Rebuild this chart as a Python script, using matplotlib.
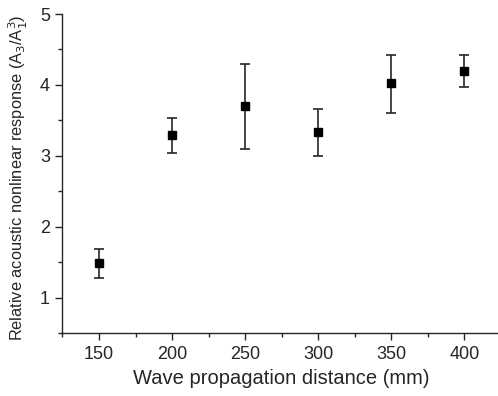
import matplotlib
matplotlib.use("Agg")
import matplotlib.pyplot as plt
from matplotlib.ticker import MultipleLocator

# wave propagation distance (mm) and relative nonlinear response
distance = [150, 200, 250, 300, 350, 400]
response = [1.49, 3.30, 3.70, 3.34, 4.03, 4.20]
err_low = [1.28, 3.04, 3.09, 3.00, 3.61, 3.97]
err_high = [1.68, 3.54, 4.29, 3.66, 4.42, 4.42]

yerr = [
    [r - lo for r, lo in zip(response, err_low)],
    [hi - r for r, hi in zip(response, err_high)],
]

plt.rcParams["font.family"] = ["Liberation Sans", "DejaVu Sans"]
ink = "#262626"

fig = plt.figure(figsize=(4.98, 3.96), dpi=100)
ax = fig.add_axes([0.1255, 0.159, 0.8775, 0.8056])

ax.errorbar(distance, response, yerr=yerr, fmt="s", color="black",
            markersize=6, ecolor=ink, elinewidth=1.2, capsize=3.5,
            capthick=1.2)

ax.set_xlim(125, 424)
ax.set_ylim(0.5, 5)
ax.xaxis.set_major_locator(MultipleLocator(50))
ax.xaxis.set_minor_locator(MultipleLocator(25))
ax.yaxis.set_major_locator(MultipleLocator(1))
ax.yaxis.set_minor_locator(MultipleLocator(0.5))

for side in ("top", "right"):
    ax.spines[side].set_visible(False)
for side in ("left", "bottom"):
    ax.spines[side].set_color(ink)
    ax.spines[side].set_linewidth(1.0)

ax.tick_params(which="major", direction="out", length=5, width=1.0,
               color=ink, labelsize=13, labelcolor=ink, pad=4)
ax.tick_params(which="minor", direction="out", length=3, width=1.0,
               color=ink)

ax.set_xlabel("Wave propagation distance (mm)", fontsize=14.5, color=ink,
              labelpad=5)
ax.set_ylabel("Relative acoustic nonlinear response (A$_3$/A$_1^3$)",
              fontsize=11.8, color=ink)
ax.yaxis.set_label_coords(-0.074, 0.486)

fig.savefig("out.png", dpi=100)
